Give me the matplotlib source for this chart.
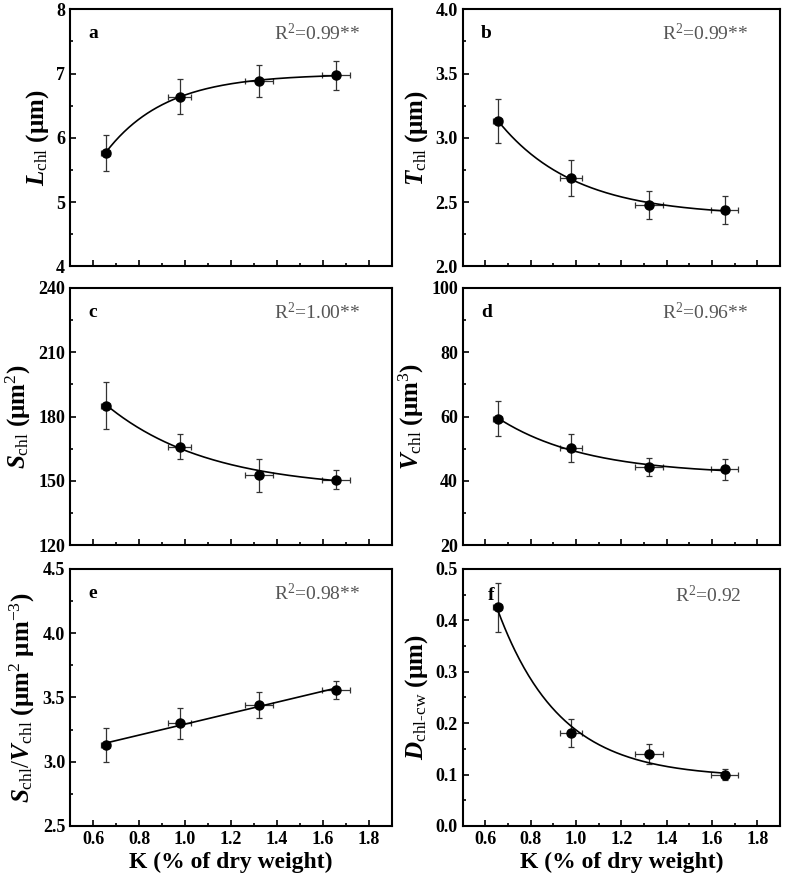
import numpy as np
import matplotlib
matplotlib.use("Agg")
import matplotlib.pyplot as plt
from matplotlib.ticker import MultipleLocator

plt.rcParams['font.family'] = ['Liberation Serif', 'DejaVu Serif']
plt.rcParams['mathtext.fontset'] = 'custom'
plt.rcParams['mathtext.rm'] = 'Liberation Serif'
plt.rcParams['mathtext.it'] = 'Liberation Serif:italic:bold'
plt.rcParams['mathtext.bf'] = 'Liberation Serif:bold'

# K content (% of dry weight) and its error
k_vals = [0.655, 0.978, 1.322, 1.657]
k_err = [0.02, 0.05, 0.06, 0.06]

# panel data
l_chl = [5.77, 6.64, 6.89, 6.97]
l_err = [0.28, 0.27, 0.25, 0.22]
t_chl = [3.13, 2.69, 2.48, 2.44]
t_err = [0.17, 0.14, 0.11, 0.11]
s_chl = [185.0, 166.0, 152.5, 150.5]
s_err = [11.0, 6.0, 7.5, 4.5]
v_chl = [59.3, 50.3, 44.4, 43.6]
v_err = [5.5, 4.3, 2.8, 3.2]
sv_chl = [3.13, 3.30, 3.44, 3.56]
sv_err = [0.13, 0.12, 0.10, 0.07]
d_chl = [0.425, 0.181, 0.140, 0.100]
d_err = [0.047, 0.027, 0.020, 0.010]

letters = ['a', 'b', 'c', 'd', 'e', 'f']
r2_labels = ['R$^2$=0.99**', 'R$^2$=0.99**', 'R$^2$=1.00**',
             'R$^2$=0.96**', 'R$^2$=0.98**', 'R$^2$=0.92']
ylabels = [r'$\mathit{L}_{\mathrm{chl}}$ (μm)',
           r'$\mathit{T}_{\mathrm{chl}}$ (μm)',
           r'$\mathit{S}_{\mathrm{chl}}$ (μm$^{2}$)',
           r'$\mathit{V}_{\mathrm{chl}}$ (μm$^{3}$)',
           r'$\mathit{S}_{\mathrm{chl}}/\mathit{V}_{\mathrm{chl}}$ (μm$^{2}$ μm$^{-3}$)',
           r'$\mathit{D}_{\mathrm{chl\text{-}cw}}$ (μm)']
ylims = [(4, 8), (2.0, 4.0), (120, 240), (20, 100), (2.5, 4.5), (0.0, 0.5)]
ymajor = [1, 0.5, 30, 20, 0.5, 0.1]
yfmt = ['%d', '%.1f', '%d', '%d', '%.1f', '%.1f']
fit_kind = ['exp', 'exp', 'exp', 'exp', 'lin', 'exp']

series = [(l_chl, l_err), (t_chl, t_err), (s_chl, s_err),
          (v_chl, v_err), (sv_chl, sv_err), (d_chl, d_err)]


def exp_fit(x, y, w):
    # y = a + b*exp(-r*x), grid search on r, weighted least squares for a, b
    x = np.asarray(x)
    y = np.asarray(y)
    w = np.asarray(w)
    best = None
    for r in np.linspace(0.2, 12, 600):
        A = np.column_stack([np.ones_like(x), np.exp(-r * x)])
        coef, *_ = np.linalg.lstsq(A * w[:, None], y * w, rcond=None)
        res = np.sum(((A @ coef - y) * w) ** 2)
        if best is None or res < best[0]:
            best = (res, r, coef)
    _, r, coef = best
    return lambda t: coef[0] + coef[1] * np.exp(-r * t)


fig = plt.figure(figsize=(7.87, 8.82), dpi=100)
lefts = [0.089, 0.588]
width = [0.409, 0.403]
bottoms = [0.698, 0.382, 0.0635]
height = 0.2915

for i in range(6):
    row, col = divmod(i, 2)
    ax = fig.add_axes([lefts[col], bottoms[row], width[col], height])
    y, ye = series[i]
    ax.errorbar(k_vals, y, xerr=k_err, yerr=ye, fmt='none', ecolor='#333333',
                elinewidth=0.9, capsize=2, capthick=0.9, zorder=2)
    xs = np.linspace(k_vals[0], k_vals[-1], 200)
    if fit_kind[i] == 'lin':
        p = np.polyfit(k_vals, y, 1)
        ax.plot(xs, np.polyval(p, xs), color='black', lw=1.2, zorder=3)
    else:
        f = exp_fit(k_vals, y, 1.0 / np.asarray(ye))
        ax.plot(xs, f(xs), color='black', lw=1.2, zorder=3)
    ax.plot(k_vals, y, 'o', color='black', ms=6.5, zorder=4)

    ax.set_xlim(0.5, 1.9)
    ax.set_ylim(*ylims[i])
    ax.xaxis.set_major_locator(MultipleLocator(0.2))
    ax.xaxis.set_minor_locator(MultipleLocator(0.1))
    ax.yaxis.set_major_locator(MultipleLocator(ymajor[i]))
    ax.yaxis.set_minor_locator(MultipleLocator(ymajor[i] / 2))
    ax.yaxis.set_major_formatter(matplotlib.ticker.FormatStrFormatter(yfmt[i]))
    ax.xaxis.set_major_formatter(matplotlib.ticker.FormatStrFormatter('%.1f'))
    ax.tick_params(which='both', direction='in', top=False, right=False,
                   labelsize=13, width=1.2)
    ax.tick_params(which='major', length=4)
    ax.tick_params(which='minor', length=2.5)
    for lab in ax.get_xticklabels() + ax.get_yticklabels():
        lab.set_fontweight('bold')
    for sp in ax.spines.values():
        sp.set_linewidth(1.5)
    if row < 2:
        ax.tick_params(labelbottom=False)
    else:
        ax.set_xlabel('K (% of dry weight)', fontsize=17, fontweight='bold',
                      labelpad=3)
    ax.set_ylabel(ylabels[i], fontsize=18, fontweight='bold', labelpad=4)

    lx = 0.057 if i != 5 else 0.08
    ly = 0.905 if i != 5 else 0.895
    ax.text(lx, ly, letters[i], transform=ax.transAxes, fontsize=14,
            fontweight='bold', va='center', ha='left')
    rx = 0.90 if i != 5 else 0.88
    ax.text(rx, ly, r2_labels[i], transform=ax.transAxes, fontsize=14,
            color='#555555', va='center', ha='right')

fig.savefig('out.png', dpi=100)
